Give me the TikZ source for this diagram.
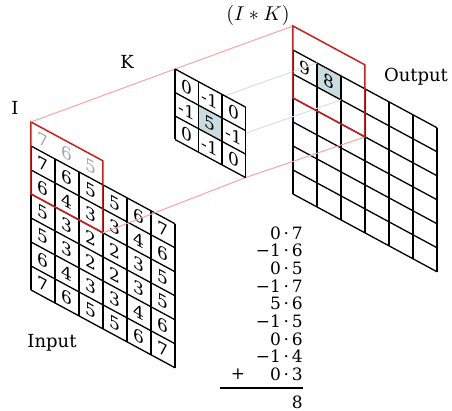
\documentclass[tikz,border=0pt]{standalone}
\usepackage{fontspec}
\setmainfont{DejaVu Serif}
\definecolor{winred}{HTML}{CC1F1F}
\definecolor{projred}{HTML}{F4A6A6}
\definecolor{projblue}{HTML}{D3E2E6}
\definecolor{cellblue}{HTML}{C9DCDF}
\definecolor{padgray}{HTML}{A6A6A6}
\newcommand\dotop{\hspace{0.16em}·\hspace{0.16em}}
\begin{document}
\begin{tikzpicture}[x=0.5pt,y=-0.5pt,
  gridline/.style={line width=0.65pt, draw=black},
  window/.style={line width=0.75pt, draw=winred},
  projr/.style={line width=0.5pt, draw=projred},
  projb/.style={line width=0.5pt, draw=projblue},
  cellnum/.style={transform shape, inner sep=0pt, font=\fontsize{8.5}{10}\selectfont},
  padnum/.style={cellnum, text=padgray},
  lbl/.style={inner sep=0pt, font=\fontsize{9}{11}\selectfont},
  sumline/.style={anchor=east, inner sep=0pt, font=\fontsize{8.5}{10}\selectfont},
  inframe/.style={shift={(31,122)}, yslant=-0.54},
  kframe/.style={shift={(175,69)}, yslant=-0.54},
  outframe/.style={shift={(293,26)}, yslant=-0.54}]
\useasboundingbox (0,0) rectangle (452,411);

% ---------- Input grid ----------
\begin{scope}[inframe]
  \foreach \coli in {0,...,6} \draw[gridline] (\coli*24,24) -- (\coli*24,168);
  \foreach \rowi in {1,...,7} \draw[gridline] (0,\rowi*24) -- (144,\rowi*24);
  \foreach \vals [count=\rowi] in {{7,6,5,5,6,7},{6,4,3,3,4,6},{5,3,2,2,3,5},{5,3,2,2,3,5},{6,4,3,3,4,6},{7,6,5,5,6,7}}
    \foreach \v [count=\coli] in \vals
      \node[cellnum] (in-\rowi-\coli) at (\coli*24-12, \rowi*24+12) {\v};
  \foreach \v [count=\coli] in {7,6,5}
    \node[padnum] (pad-\coli) at (\coli*24-12, 12) {\v};
  \draw[window] (0,0) -- (72,0) -- (72,72) -- (0,72) -- cycle;
  \coordinate (inTL) at (0,0);
  \coordinate (inBR) at (72,72);
\end{scope}

% ---------- Output grid ----------
\begin{scope}[outframe]
  \fill[cellblue] (24,24) -- (48,24) -- (48,48) -- (24,48) -- cycle;
  \foreach \coli in {0,...,6} \draw[gridline] (\coli*24,24) -- (\coli*24,168);
  \foreach \rowi in {1,...,7} \draw[gridline] (0,\rowi*24) -- (144,\rowi*24);
  \node[cellnum] (out-9) at (12,36) {9};
  \node[cellnum] (out-8) at (36,36) {8};
  \coordinate (outTL) at (0,0);
  \coordinate (outBR) at (72,72);
  \coordinate (o8TL) at (24,24);
  \coordinate (o8BR) at (48,48);
\end{scope}

% ---------- kernel coordinates ----------
\begin{scope}[kframe]
  \coordinate (kTL) at (0,0);
  \coordinate (kBR) at (70.5,70.5);
  \coordinate (kcTL) at (23.5,23.5);
  \coordinate (kcBR) at (47,47);
\end{scope}

% ---------- projection lines ----------
\draw[projb] (kcTL) -- (o8TL);
\draw[projb] (kcBR) -- (o8BR);
\draw[projr] (inTL) -- (kTL) -- (outTL);
\draw[projr] (inBR) -- (kBR) -- (outBR);

% ---------- Kernel ----------
\begin{scope}[kframe]
  \fill[white] (0,0) -- (70.5,0) -- (70.5,70.5) -- (0,70.5) -- cycle;
  \fill[cellblue] (23.5,23.5) -- (47,23.5) -- (47,47) -- (23.5,47) -- cycle;
  \foreach \coli in {0,...,3} \draw[gridline] (\coli*23.5,0) -- (\coli*23.5,70.5);
  \foreach \rowi in {0,...,3} \draw[gridline] (0,\rowi*23.5) -- (70.5,\rowi*23.5);
  \foreach \vals [count=\rowi] in {{0,-1,0},{-1,5,-1},{0,-1,0}}
    \foreach \v [count=\coli] in \vals
      \node[cellnum] (k-\rowi-\coli) at (\coli*23.5-11.75, \rowi*23.5-11.75) {\v};
\end{scope}

% ---------- Output window ----------
\begin{scope}[outframe]
  \draw[window] (0,0) -- (72,0) -- (72,72) -- (0,72) -- cycle;
\end{scope}

% ---------- Labels ----------
\node[lbl] (lblI) at (15,108) {I};
\node[lbl] (lblK) at (127,62) {K};
\node[inner sep=0pt, font=\fontsize{10}{12}\selectfont] (lblIK) at (258,16) {$(I*K)$};
\node[lbl] (lblOut) at (416,77) {Output};
\node[lbl] (lblIn) at (52,343) {Input};

% ---------- Sum ----------
\foreach \a/\b [count=\k from 0] in {0/7,−1/6,0/5,−1/7,5/6,−1/5,0/6,−1/4,0/3}
  \node[sumline] (sum-\k) at (303, 233+17.65*\k) {\a\dotop\b};
\node[sumline, anchor=center] (plus) at (238,374.2) {+};
\coordinate (ruleL) at (220,388);
\coordinate (ruleR) at (303,388);
\draw[line width=0.55pt] (ruleL) -- (ruleR);
\node[sumline] (result) at (303,402) {8};
\end{tikzpicture}
\end{document}
